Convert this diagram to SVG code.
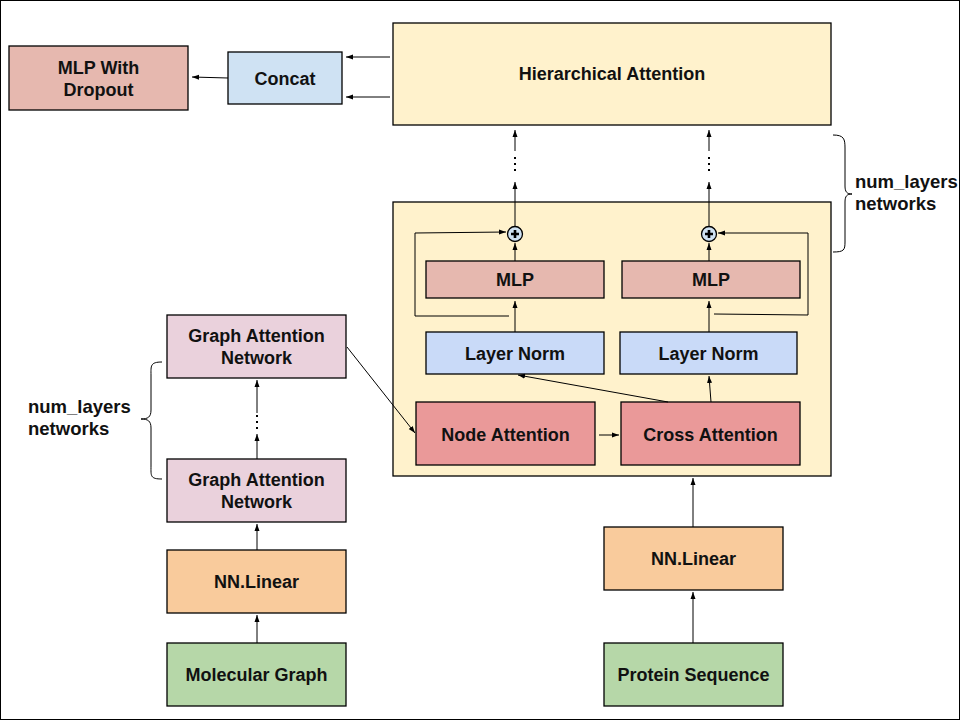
<svg xmlns="http://www.w3.org/2000/svg" width="960" height="720" viewBox="0 0 960 720">
<style>
.box{stroke:#000;stroke-width:1.3}
.t{font-family:"Liberation Sans",Arial,sans-serif;font-weight:bold;font-size:18px;fill:#111;text-anchor:middle}
.tl{font-family:"Liberation Sans",Arial,sans-serif;font-weight:bold;font-size:18.5px;fill:#111}
.c{fill:none;stroke:#000;stroke-width:1}
.dot{stroke:#000;stroke-width:2;stroke-dasharray:2 4;fill:none}
</style>
<defs>
<marker id="ah" markerWidth="8" markerHeight="8" refX="7" refY="4" orient="auto" markerUnits="userSpaceOnUse">
<path d="M0,1.5 L7,4 L0,6.5 Z" fill="#000"/>
</marker>
</defs>
<rect x="0" y="0" width="960" height="720" fill="#fff"/>
<rect x="0.5" y="0.5" width="959" height="719" fill="none" stroke="#000" stroke-width="1"/>

<g id="mlp-dropout"><rect class="box" x="9" y="46" width="179" height="64" fill="#e6b8af"/><text class="t" x="98.5" y="74">MLP With</text><text class="t" x="98.5" y="96">Dropout</text></g>
<g id="concat"><rect class="box" x="228" y="52" width="114" height="52" fill="#cfe2f3"/><text class="t" x="285" y="85">Concat</text></g>
<g id="hier-attn"><rect class="box" x="393" y="23" width="438" height="102" fill="#fff2cc"/><text class="t" x="612" y="80">Hierarchical Attention</text></g>
<g id="block"><rect class="box" x="393" y="202" width="438" height="274" fill="#fff2cc"/></g>
<g id="plus-left"><circle cx="515" cy="234" r="7.5" fill="#cfe2f3" stroke="#000" stroke-width="1.3"/><path d="M515,230v8M511,234h8" stroke="#000" stroke-width="2.6"/></g>
<g id="plus-right"><circle cx="709" cy="234" r="7.5" fill="#cfe2f3" stroke="#000" stroke-width="1.3"/><path d="M709,230v8M705,234h8" stroke="#000" stroke-width="2.6"/></g>
<g id="mlp-left"><rect class="box" x="426" y="261" width="178" height="37" fill="#e6b8af"/><text class="t" x="515" y="286">MLP</text></g>
<g id="mlp-right"><rect class="box" x="622" y="261" width="178" height="37" fill="#e6b8af"/><text class="t" x="711" y="286">MLP</text></g>
<g id="ln-left"><rect class="box" x="426" y="332" width="178" height="42" fill="#c9daf8"/><text class="t" x="515" y="360">Layer Norm</text></g>
<g id="ln-right"><rect class="box" x="620" y="332" width="177" height="42" fill="#c9daf8"/><text class="t" x="708.5" y="360">Layer Norm</text></g>
<g id="node-attn"><rect class="box" x="416" y="402" width="179" height="63" fill="#ea9999"/><text class="t" x="505.5" y="441">Node Attention</text></g>
<g id="cross-attn"><rect class="box" x="621" y="402" width="179" height="63" fill="#ea9999"/><text class="t" x="710.5" y="441">Cross Attention</text></g>
<g id="gat-top"><rect class="box" x="167" y="315" width="179" height="63" fill="#ead1dc"/><text class="t" x="256.5" y="342">Graph Attention</text><text class="t" x="256.5" y="364">Network</text></g>
<g id="gat-bottom"><rect class="box" x="167" y="459" width="179" height="63" fill="#ead1dc"/><text class="t" x="256.5" y="486">Graph Attention</text><text class="t" x="256.5" y="508">Network</text></g>
<g id="nn-left"><rect class="box" x="167" y="550" width="179" height="63" fill="#f9cb9c"/><text class="t" x="256.5" y="588">NN.Linear</text></g>
<g id="mol-graph"><rect class="box" x="167" y="643" width="179" height="63" fill="#b6d7a8"/><text class="t" x="256.5" y="681">Molecular Graph</text></g>
<g id="nn-right"><rect class="box" x="604" y="527" width="179" height="63" fill="#f9cb9c"/><text class="t" x="693.5" y="565">NN.Linear</text></g>
<g id="protein"><rect class="box" x="604" y="643" width="179" height="63" fill="#b6d7a8"/><text class="t" x="693.5" y="681">Protein Sequence</text></g>
<g id="label-left"><path class="c" d="M162,362 C150,362 151,366 151,375 L151,410 C151,417 148,419 141,419 C148,419 151,421 151,428 L151,466 C151,476 150,479 162,479"/><text class="tl" x="28" y="413">num_layers</text><text class="tl" x="28" y="435">networks</text></g>
<g id="label-right"><path class="c" d="M833,135 C844,135 845,139 845,148 L845,186 C845,192 847,194 852,194 C847,194 845,196 845,202 L845,242 C845,250 844,252 833,252"/><text class="tl" x="855" y="188">num_layers</text><text class="tl" x="855" y="210">networks</text></g>

<g id="connectors">
<line class="c" x1="228" y1="78" x2="192" y2="77" marker-end="url(#ah)"/>
<line class="c" x1="390" y1="57" x2="346" y2="57" marker-end="url(#ah)"/>
<line class="c" x1="390" y1="97" x2="346" y2="97" marker-end="url(#ah)"/>
<line class="c" x1="515" y1="226" x2="515" y2="182" marker-end="url(#ah)"/>
<line class="dot" x1="515" y1="157" x2="515" y2="175"/>
<line class="c" x1="515" y1="151" x2="515" y2="130" marker-end="url(#ah)"/>
<line class="c" x1="709" y1="226" x2="709" y2="182" marker-end="url(#ah)"/>
<line class="dot" x1="709" y1="157" x2="709" y2="175"/>
<line class="c" x1="709" y1="151" x2="709" y2="130" marker-end="url(#ah)"/>
<line class="c" x1="515" y1="261" x2="515" y2="243" marker-end="url(#ah)"/>
<line class="c" x1="709" y1="261" x2="709" y2="243" marker-end="url(#ah)"/>
<line class="c" x1="515" y1="332" x2="515" y2="301" marker-end="url(#ah)"/>
<line class="c" x1="709" y1="332" x2="709" y2="301" marker-end="url(#ah)"/>
<path class="c" d="M509,316 L415,316 L415,233 L506,232" marker-end="url(#ah)"/>
<path class="c" d="M714,314 L808,315 L808,233 L718,233" marker-end="url(#ah)"/>
<line class="c" x1="599" y1="435" x2="619" y2="435" marker-end="url(#ah)"/>
<line class="c" x1="668" y1="402" x2="518" y2="375" marker-end="url(#ah)"/>
<line class="c" x1="711" y1="402" x2="709" y2="376" marker-end="url(#ah)"/>
<line class="c" x1="347" y1="347" x2="415" y2="433" marker-end="url(#ah)"/>
<line class="c" x1="257" y1="459" x2="257" y2="434" marker-end="url(#ah)"/>
<line class="dot" x1="257" y1="415" x2="257" y2="431"/>
<line class="c" x1="257" y1="413" x2="257" y2="380" marker-end="url(#ah)"/>
<line class="c" x1="257" y1="550" x2="257" y2="524" marker-end="url(#ah)"/>
<line class="c" x1="257" y1="643" x2="257" y2="615" marker-end="url(#ah)"/>
<line class="c" x1="693" y1="643" x2="693" y2="592" marker-end="url(#ah)"/>
<line class="c" x1="693" y1="527" x2="693" y2="478" marker-end="url(#ah)"/>
</g>
</svg>
